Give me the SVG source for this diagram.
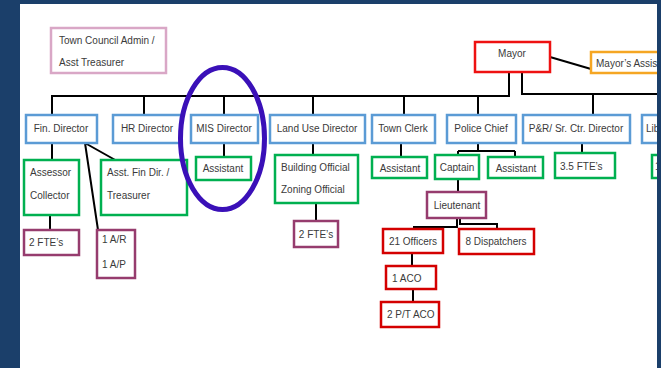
<svg xmlns="http://www.w3.org/2000/svg" width="661" height="368" viewBox="0 0 661 368">
<style>
text{font-family:"Liberation Sans",Arial,sans-serif;font-size:10px;fill:#3a3a3a}
.m{text-anchor:middle}
rect{fill:#fff;stroke-width:2.5}
.b{stroke:#5b9bd5}.g{stroke:#00b050}.p{stroke:#963c6e}.r{stroke:#d40000}.k{stroke:#d9a7c6}.o{stroke:#f5a623}.R{stroke:#ee1111}
.c path{fill:none;stroke:#000;stroke-width:2}
</style>
<rect x="0" y="0" width="661" height="368" fill="#fff" stroke="none"/>
<g class="c" id="connectors">
<path d="M509 72V96H52V115M144 96V115M224 96V115M313 96V115M404 96V115M478 96V115"/>
<path d="M522 72V94H670M593 94V115"/>
<path d="M550 57L591 69"/>
<path d="M52 143V160M85 143L117 161M85 143L98 230M50 215V230"/>
<path d="M224 143V157M313 143V155M316 203V221M401 143V157"/>
<path d="M478 143V151M458 151H515M458 151V155M515 151V157M582 143V153"/>
<path d="M458 179V192M457 218V227H414V229M460 218V224H497V229M412 253V266M413 289V302"/>
</g>
<g id="town-council"><rect class="k" x="51" y="28" width="115" height="45"/><text x="59" y="44">Town Council Admin /</text><text x="59" y="66">Asst Treasurer</text></g>
<g id="mayor"><rect class="R" x="475" y="42" width="75" height="30" stroke-width="3"/><text class="m" x="512" y="57">Mayor</text></g>
<g id="mayors-assistant"><rect class="o" x="591" y="52" width="100" height="21"/><text x="596" y="67">Mayor’s Assist</text></g>
<g id="fin-director"><rect class="b" x="26" y="115" width="71" height="28"/><text class="m" x="61" y="132">Fin. Director</text></g>
<g id="hr-director"><rect class="b" x="113" y="115" width="68" height="28"/><text class="m" x="147" y="132">HR Director</text></g>
<g id="mis-director"><rect class="b" x="191" y="115" width="67" height="28"/><text class="m" x="224" y="132">MIS Director</text></g>
<g id="land-use-director"><rect class="b" x="270" y="115" width="95" height="28"/><text class="m" x="317" y="132">Land Use Director</text></g>
<g id="town-clerk"><rect class="b" x="372" y="115" width="63" height="28"/><text class="m" x="403" y="132">Town Clerk</text></g>
<g id="police-chief"><rect class="b" x="447" y="115" width="69" height="28"/><text class="m" x="481" y="132">Police Chief</text></g>
<g id="pr-director"><rect class="b" x="523" y="115" width="107" height="28"/><text class="m" x="576" y="132">P&amp;R/ Sr. Ctr. Director</text></g>
<g id="library"><rect class="b" x="642" y="115" width="40" height="28"/><text x="646" y="132">Lib</text></g>
<g id="assessor"><rect class="g" x="24" y="160" width="55" height="55"/><text x="30" y="176">Assessor</text><text x="30" y="199">Collector</text></g>
<g id="asst-fin-dir"><rect class="g" x="101" y="160" width="86" height="55"/><text x="107" y="176">Asst. Fin Dir. /</text><text x="107" y="199">Treasurer</text></g>
<g id="fin-2fte"><rect class="p" x="24" y="230" width="55" height="25"/><text x="29" y="246">2 FTE’s</text></g>
<g id="ar-ap"><rect class="p" x="97" y="230" width="38" height="48"/><text x="102" y="243">1 A/R</text><text x="102" y="268">1 A/P</text></g>
<g id="mis-assistant"><rect class="g" x="196" y="157" width="55" height="23"/><text class="m" x="223" y="172">Assistant</text></g>
<g id="building-zoning"><rect class="g" x="275" y="155" width="83" height="48"/><text x="281" y="171">Building Official</text><text x="281" y="193">Zoning Official</text></g>
<g id="land-2fte"><rect class="p" x="294" y="221" width="44" height="26"/><text class="m" x="316" y="238">2 FTE’s</text></g>
<g id="clerk-assistant"><rect class="g" x="372" y="157" width="55" height="21"/><text class="m" x="400" y="172">Assistant</text></g>
<g id="captain"><rect class="g" x="435" y="155" width="44" height="24"/><text class="m" x="457" y="171">Captain</text></g>
<g id="police-assistant"><rect class="g" x="488" y="157" width="55" height="21"/><text class="m" x="516" y="172">Assistant</text></g>
<g id="pr-fte"><rect class="g" x="555" y="153" width="60" height="25"/><text x="560" y="170">3.5 FTE’s</text></g>
<g id="library-sub"><rect class="g" x="652" y="155" width="30" height="23"/><text x="655" y="170">1</text></g>
<g id="lieutenant"><rect class="p" x="427" y="192" width="59" height="26"/><text class="m" x="457" y="209">Lieutenant</text></g>
<g id="officers"><rect class="r" x="383" y="229" width="60" height="24" stroke-width="3"/><text class="m" x="413" y="245">21 Officers</text></g>
<g id="dispatchers"><rect class="r" x="459" y="229" width="75" height="25" stroke-width="3"/><text class="m" x="496" y="245">8 Dispatchers</text></g>
<g id="aco"><rect class="r" x="386" y="266" width="50" height="23" stroke-width="3"/><text x="392" y="282">1 ACO</text></g>
<g id="pt-aco"><rect class="r" x="381" y="302" width="58" height="25" stroke-width="3"/><text x="387" y="318">2 P/T ACO</text></g>
<ellipse id="highlight" cx="222.5" cy="138.5" rx="42" ry="71" fill="none" stroke="#3a10b8" stroke-width="5"/>
<path id="frame" d="M0 0H661V368H657V4H20V368H0Z" fill="#1b3f6a"/>
</svg>
